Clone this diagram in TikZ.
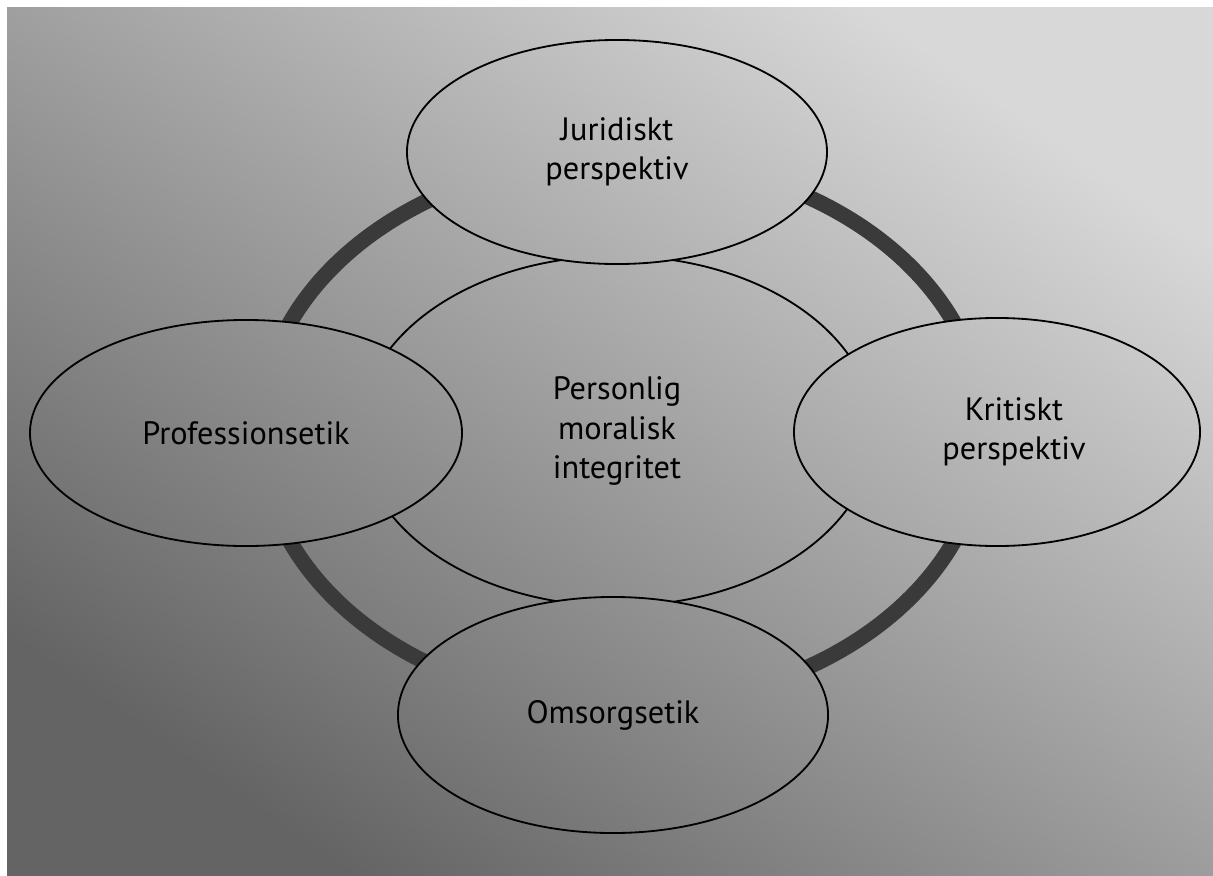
\documentclass[tikz,border=0pt]{standalone}
\usepackage{fontspec}
\setmainfont{PT Sans}
\usetikzlibrary{shapes.geometric}

\definecolor{pagedark}{RGB}{100,100,100}
\definecolor{pagelight}{RGB}{216,216,216}
\definecolor{ringgray}{RGB}{58,58,58}

\tikzset{
    field/.style={ellipse, draw=black, line width=1.3pt, inner sep=0pt,
        font=\fontsize{23}{28}\selectfont, align=center},
}

\begin{document}
\begin{tikzpicture}[x=0.025cm, y=-0.025cm]
            \useasboundingbox (0,0) rectangle (1213,876);
            \fill[white] (0,0) rectangle (1213,876);
            \shade[left color=pagelight, right color=pagedark, shading angle=-35] (7,7) rectangle (1213,876);

            \coordinate (cJur) at (617,152);
            \coordinate (cProf) at (246,433);
            \coordinate (cKrit) at (997,432);
            \coordinate (cOms) at (613,715);

            % ring and centre ellipse go under the four outer ellipses
            \begin{scope}[even odd rule]
                \clip (7,7) rectangle (1213,876)
                    (cJur) ellipse [x radius=210, y radius=112]
                    (cProf) ellipse [x radius=216, y radius=113]
                    (cKrit) ellipse [x radius=203, y radius=114]
                    (cOms) ellipse [x radius=215, y radius=118];
                \draw[ringgray, line width=0.39cm] (622,432) ellipse [x radius=362, y radius=274];
                \node[field, minimum width=12.85cm, minimum height=8.75cm] (integritet) at (617,431)
                    {Personlig\\moralisk\\integritet};
            \end{scope}

            \node[field, minimum width=10.5cm, minimum height=5.6cm] (juridiskt) at (cJur) {Juridiskt\\perspektiv};
            \node[field, minimum width=10.8cm, minimum height=5.65cm] (profession) at (cProf) {Professionsetik};
            \node[field, minimum width=10.15cm, minimum height=5.7cm,
                label={[font=\fontsize{23}{28}\selectfont, align=center, xshift=0.425cm]center:{Kritiskt\\perspektiv}}]
                (kritiskt) at (cKrit) {};
            \node[field, minimum width=10.75cm, minimum height=5.9cm] (omsorg) at (cOms) {Omsorgsetik};
        \end{tikzpicture}
\end{document}
